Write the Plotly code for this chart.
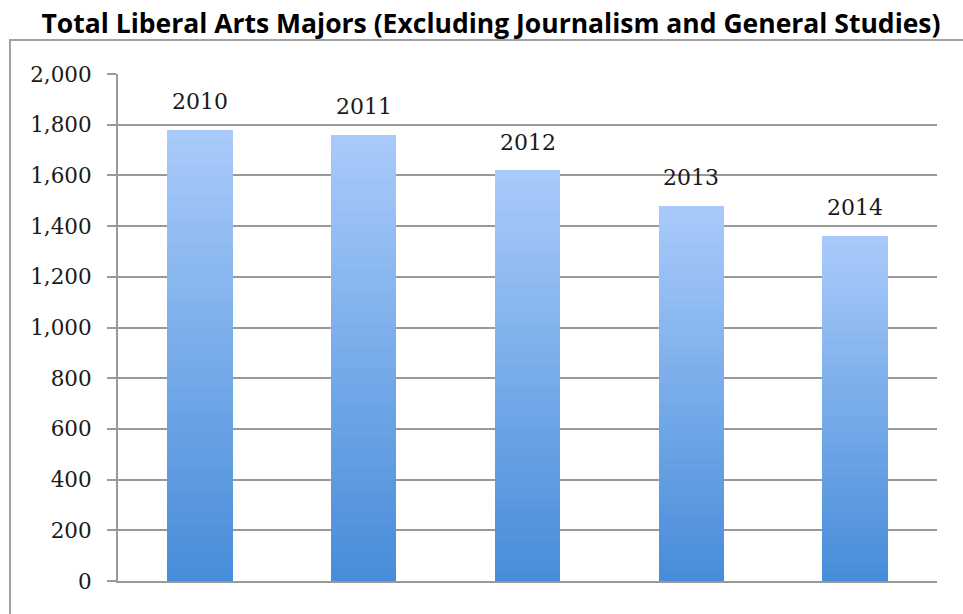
import plotly.graph_objects as go

# ---- data ----
categories = ["2010", "2011", "2012", "2013", "2014"]
majors = [1780, 1760, 1620, 1480, 1362]
y_ticks = [0, 200, 400, 600, 800, 1000, 1200, 1400, 1600, 1800, 2000]
title_text = "Total Liberal Arts Majors (Excluding Journalism and General Studies)"

# ---- gradient bars: stacked slices of each bar, dark at bottom -> light at top ----
N = 40
bottom_rgb = (72, 141, 217)
top_rgb = (168, 202, 250)

fig = go.Figure()
for i in range(N):
    t = i / (N - 1)
    c = tuple(round(b + (tp - b) * t) for b, tp in zip(bottom_rgb, top_rgb))
    fig.add_trace(go.Bar(
        x=categories,
        y=[v / N for v in majors],
        marker=dict(color=f"rgb{c}", line=dict(width=0)),
        showlegend=False,
        hoverinfo="skip",
    ))

# labels above bars (x given as category index)
for idx, (cat, v) in enumerate(zip(categories, majors)):
    fig.add_annotation(x=idx, y=v, text=cat, showarrow=False, yshift=28,
                       font=dict(family="DejaVu Serif", size=22, color="#1a1a1a"))

# outer frame
fig.add_shape(type="rect", xref="paper", yref="paper",
              x0=-0.1319, x1=1.2, y0=-0.2, y1=1.067,
              line=dict(color="#a3a3a3", width=2), fillcolor="rgba(0,0,0,0)", layer="below")

fig.update_layout(
    width=963, height=614,
    margin=dict(l=118, r=26, t=74, b=33),
    paper_bgcolor="white", plot_bgcolor="white",
    barmode="stack", bargap=0.6,
    title=dict(text=f"<b>{title_text}</b>", x=491 / 963, xanchor="center",
               y=1 - 23.5 / 614, yanchor="middle",
               font=dict(family="Open Sans", size=26.5, color="black")),
    xaxis=dict(type="category", range=[-0.5, len(categories) - 0.5],
               showticklabels=False, ticks="", showgrid=False,
               showline=True, linecolor="#999999", linewidth=2, fixedrange=True),
    yaxis=dict(range=[0, 2000], tickvals=y_ticks, tickformat=",d",
               showgrid=True, gridcolor="#999999", gridwidth=2,
               showline=True, linecolor="#999999", linewidth=2,
               ticks="outside", ticklen=9, tickcolor="#999999", tickwidth=2,
               ticklabelstandoff=11, zeroline=False,
               tickfont=dict(family="DejaVu Serif", size=21.5, color="#1a1a1a")),
)

fig.write_html("out.html", config={"displayModeBar": False},
               post_script="document.body.style.margin='0';")
